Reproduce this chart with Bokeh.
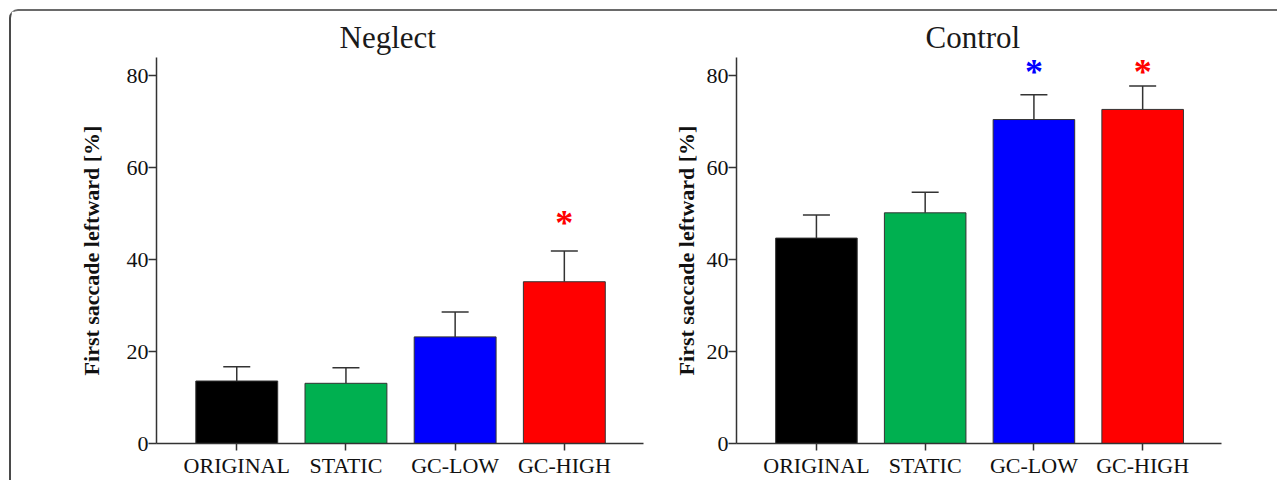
from bokeh.plotting import figure
from bokeh.models import (Range1d, FixedTicker, Whisker, TeeHead, ColumnDataSource,
                          GlobalInlineStyleSheet)
from bokeh.layouts import row
from bokeh.embed import file_html
from bokeh.resources import INLINE
from bokeh.core.properties import value

# ---- data ----
categories = ["ORIGINAL", "STATIC", "GC-LOW", "GC-HIGH"]
bar_colors = ["#000000", "#00B050", "#0000FF", "#FF0000"]

neglect_mean = [13.6, 13.1, 23.2, 35.2]
neglect_sem = [3.1, 3.4, 5.4, 6.7]
neglect_sig = [False, False, False, True]
neglect_star_y = 49.3

control_mean = [44.7, 50.2, 70.5, 72.7]
control_sem = [5.0, 4.5, 5.4, 5.1]
control_sig = [False, False, True, True]
control_star_y = 82.2

y_ticks = [0, 20, 40, 60, 80]
y_label = "First saccade leftward [%]"

SERIF = "Liberation Serif"
AXIS_COLOR = "#333333"


def make_panel(title, means, sems, sig, star_y, width, mbl, mbr, title_offset, label_standoff):
    xs = list(range(1, len(categories) + 1))
    p = figure(width=width, height=469,
               x_range=Range1d(0.265, 4.725), y_range=Range1d(0, 84),
               output_backend="svg", toolbar_location=None,
               min_border_left=mbl, min_border_right=mbr,
               min_border_top=46, min_border_bottom=34)
    p.outline_line_color = None
    p.grid.visible = False
    p.background_fill_color = "white"
    p.border_fill_color = "white"

    p.title.text = title
    p.title.text_font = SERIF
    p.title.text_font_size = "31px"
    p.title.text_font_style = "normal"
    p.title.text_color = "#1a1a1a"
    p.title.align = "left"
    p.title.offset = title_offset
    p.title.standoff = 5

    p.vbar(x=xs, top=means, bottom=0, width=0.75, fill_color=bar_colors,
           line_color=AXIS_COLOR, line_width=1)

    src = ColumnDataSource(dict(x=xs, lower=means,
                                upper=[m + s for m, s in zip(means, sems)]))
    w = Whisker(base="x", lower="lower", upper="upper", source=src,
                lower_head=None,
                upper_head=TeeHead(size=27, line_color=AXIS_COLOR, line_width=1.5),
                line_color=AXIS_COLOR, line_width=1.5, level="glyph")
    p.add_layout(w)

    sx = [x for x, s in zip(xs, sig) if s]
    sc = [c for c, s in zip(bar_colors, sig) if s]
    p.text(x=sx, y=[star_y] * len(sx), text=["*"] * len(sx), text_color=sc,
           text_font=value(SERIF), text_font_style="bold", text_font_size="36px",
           text_align="center", text_baseline="alphabetic", y_offset=6)

    xa = p.xaxis[0]
    xa.ticker = FixedTicker(ticks=xs, minor_ticks=[])
    xa.major_label_overrides = {x: c for x, c in zip(xs, categories)}
    xa.major_tick_out = 7
    xa.major_tick_in = 0
    xa.major_label_standoff = 2
    xa.minor_tick_line_color = None

    ya = p.yaxis[0]
    ya.ticker = FixedTicker(ticks=y_ticks, minor_ticks=[])
    ya.major_tick_out = 8
    ya.major_tick_in = 0
    ya.major_label_standoff = 0
    ya.minor_tick_line_color = None
    ya.axis_label = y_label
    ya.axis_label_text_font = SERIF
    ya.axis_label_text_font_size = "22px"
    ya.axis_label_text_font_style = "bold"
    ya.axis_label_text_color = "#111111"
    ya.axis_label_standoff = label_standoff

    for ax in (xa, ya):
        ax.axis_line_color = AXIS_COLOR
        ax.axis_line_width = 1.5
        ax.major_tick_line_color = AXIS_COLOR
        ax.major_tick_line_width = 1.5
        ax.major_label_text_font = SERIF
        ax.major_label_text_font_size = "22px"
        ax.major_label_text_color = "#111111"
    return p


p1 = make_panel("Neglect", neglect_mean, neglect_sem, neglect_sig, neglect_star_y,
                width=637, mbl=145, mbr=5, title_offset=183, label_standoff=20)
p2 = make_panel("Control", control_mean, control_sem, control_sig, control_star_y,
                width=629, mbl=88, mbr=56, title_offset=189, label_standoff=5)

layout = row(p1, p2, spacing=0,
             styles={"border-top": "2px solid #6a6a6a",
                     "border-left": "2px solid #4a4a4a",
                     "border-top-left-radius": "9px",
                     "margin-top": "9px", "margin-left": "9px"},
             stylesheets=[GlobalInlineStyleSheet(css="html, body { overflow: hidden; }")])

open("out.html", "w").write(file_html(layout, INLINE))
